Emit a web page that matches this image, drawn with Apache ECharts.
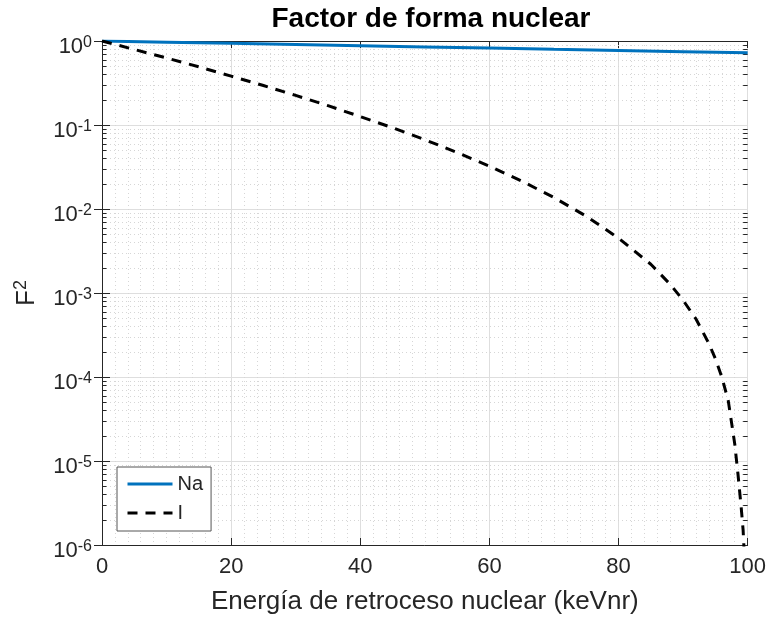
<!DOCTYPE html>
<html>
<head>
<meta charset="utf-8">
<script src="https://cdn.jsdelivr.net/npm/echarts@6/dist/echarts.min.js"></script>
<style>
  html, body { margin: 0; padding: 0; background: #fff; }
  #chart { width: 769px; height: 622px; }
</style>
</head>
<body>
<div id="chart"></div>
<script>
// datos
var energyNa = [0, 10, 20, 30, 40, 50, 60, 70, 80, 90, 100];
var formNa = [1, 0.968, 0.938, 0.908, 0.879, 0.851, 0.824, 0.797, 0.772, 0.747, 0.723];

var energyI = [0, 2.5, 5, 10, 15, 20, 25, 30, 35, 40, 45, 50, 55, 60, 65, 70, 75, 80, 85, 88, 90, 92, 94, 95, 96, 97, 98, 98.5, 99, 99.3, 99.6, 99.7];
var formI = [1, 0.892, 0.792, 0.627, 0.492, 0.382, 0.295, 0.225, 0.170, 0.126, 0.0927, 0.0668, 0.0471, 0.0324, 0.0215, 0.0137, 0.0082, 0.0045, 0.0022, 0.00127, 0.00082, 0.00049, 0.00025, 0.000165, 0.0001, 5.2e-5, 1.6e-5, 7e-6, 2.8e-6, 1.5e-6, 5e-7, 1e-8];

var xTicks = [0, 20, 40, 60, 80, 100];
var yDecades = [1e-6, 1e-5, 1e-4, 1e-3, 1e-2, 1e-1];
var minorSteps = [2, 3, 4, 5, 6, 7, 8, 9];

// ticks menores del eje logaritmico
var minorY = [];
yDecades.forEach(function (d) {
    minorSteps.forEach(function (s) { minorY.push([0, d * s]); });
});

function pairs(xs, ys) {
    return xs.map(function (x, i) { return [x, ys[i]]; });
}

var axisColor = '#262626';
var font = 'Liberation Sans, Arial, Helvetica, sans-serif';

var myChart = echarts.init(document.getElementById('chart'));

var option = {
    animation: false,
    backgroundColor: '#fff',
    title: {
        text: 'Factor de forma nuclear',
        left: 426,
        top: 0,
        textAlign: 'center',
        textStyle: { fontFamily: font, fontSize: 28, fontWeight: 'bold', color: '#000' }
    },
    grid: { left: 102, right: 19, top: 41, bottom: 77 },
    legend: {
        orient: 'vertical',
        left: 117,
        top: 467,
        itemWidth: 45,
        itemHeight: 14,
        itemGap: 9,
        padding: [7, 8, 8, 9],
        borderColor: '#555',
        borderWidth: 1,
        backgroundColor: '#fff',
        itemStyle: { opacity: 0 },
        lineStyle: { width: 3 },
        textStyle: { fontFamily: font, fontSize: 20, color: axisColor },
        data: ['Na', 'I']
    },
    xAxis: [{
        type: 'value',
        min: 0,
        max: 100,
        interval: 20,
        name: 'Energía de retroceso nuclear (keVnr)',
        nameLocation: 'middle',
        nameGap: 44,
        nameTextStyle: { fontFamily: font, fontSize: 26, color: axisColor },
        axisLine: { show: true, lineStyle: { color: axisColor, width: 1 } },
        axisTick: { show: true, inside: true, length: 7, lineStyle: { color: axisColor } },
        axisLabel: { margin: 11, fontFamily: font, fontSize: 22, color: axisColor },
        splitLine: { show: true, lineStyle: { color: '#dedede', width: 1 } },
        minorTick: { show: false, splitNumber: 10 },
        minorSplitLine: { show: true, lineStyle: { color: '#d6d6d6', width: 1, type: [1, 3] } }
    }, {
        type: 'value',
        position: 'top',
        min: 0,
        max: 100,
        interval: 20,
        axisLine: { show: true, lineStyle: { color: axisColor, width: 1 } },
        axisTick: { show: true, inside: true, length: 7, lineStyle: { color: axisColor } },
        axisLabel: { show: false },
        splitLine: { show: false }
    }],
    yAxis: [{
        type: 'log',
        logBase: 10,
        min: 1e-6,
        max: 1,
        interval: 1,
        name: '{b|F}{e|2}',
        nameLocation: 'middle',
        nameRotate: 90,
        nameGap: 62,
        nameTextStyle: {
            rich: {
                b: { fontFamily: font, fontSize: 26, color: axisColor, lineHeight: 28, verticalAlign: 'bottom' },
                e: { fontFamily: font, fontSize: 18, color: axisColor, lineHeight: 14, verticalAlign: 'top' }
            }
        },
        axisLine: { show: true, lineStyle: { color: axisColor, width: 1 } },
        axisTick: { show: true, inside: true, length: 8, lineStyle: { color: axisColor } },
        axisLabel: {
            margin: 10,
            padding: [10, 0, 0, 0],
            formatter: function (v) {
                return '{b|10}{e|' + Math.round(Math.log10(v)) + '}';
            },
            rich: {
                b: { fontFamily: font, fontSize: 22, color: axisColor, lineHeight: 23, verticalAlign: 'bottom' },
                e: { fontFamily: font, fontSize: 16, color: axisColor, lineHeight: 11, verticalAlign: 'top' }
            }
        },
        splitLine: { show: true, lineStyle: { color: '#dedede', width: 1 } }
    }, {
        type: 'log',
        logBase: 10,
        position: 'right',
        min: 1e-6,
        max: 1,
        interval: 1,
        axisLine: { show: true, lineStyle: { color: axisColor, width: 1 } },
        axisTick: { show: true, inside: true, length: 8, lineStyle: { color: axisColor } },
        axisLabel: { show: false },
        splitLine: { show: false }
    }],
    series: [{
        // rejilla y ticks menores del eje y
        type: 'custom',
        silent: true,
        z: 1,
        data: minorY,
        renderItem: function (params, api) {
            var cs = params.coordSys;
            var p = api.coord([0, api.value(1)]);
            var y = Math.round(p[1]) + 0.5;
            var stroke = { stroke: axisColor, lineWidth: 1 };
            return {
                type: 'group',
                children: [{
                    type: 'line',
                    shape: { x1: cs.x, y1: y, x2: cs.x + cs.width, y2: y },
                    style: { stroke: '#d6d6d6', lineWidth: 1, lineDash: [1, 3] }
                }, {
                    type: 'line',
                    shape: { x1: cs.x, y1: y, x2: cs.x + 4.5, y2: y },
                    style: stroke
                }, {
                    type: 'line',
                    shape: { x1: cs.x + cs.width - 4.5, y1: y, x2: cs.x + cs.width, y2: y },
                    style: stroke
                }]
            };
        }
    }, {
        name: 'Na',
        type: 'line',
        data: pairs(energyNa, formNa),
        symbol: 'none',
        z: 3,
        color: '#0072BD',
        lineStyle: { color: '#0072BD', width: 3 }
    }, {
        name: 'I',
        type: 'line',
        data: pairs(energyI, formI),
        symbol: 'none',
        z: 4,
        color: '#000',
        lineStyle: { color: '#000', width: 3, type: [10, 8] }
    }]
};

myChart.setOption(option);

window.addEventListener('resize', function () {
    myChart.resize();
});
</script>
</body>
</html>
